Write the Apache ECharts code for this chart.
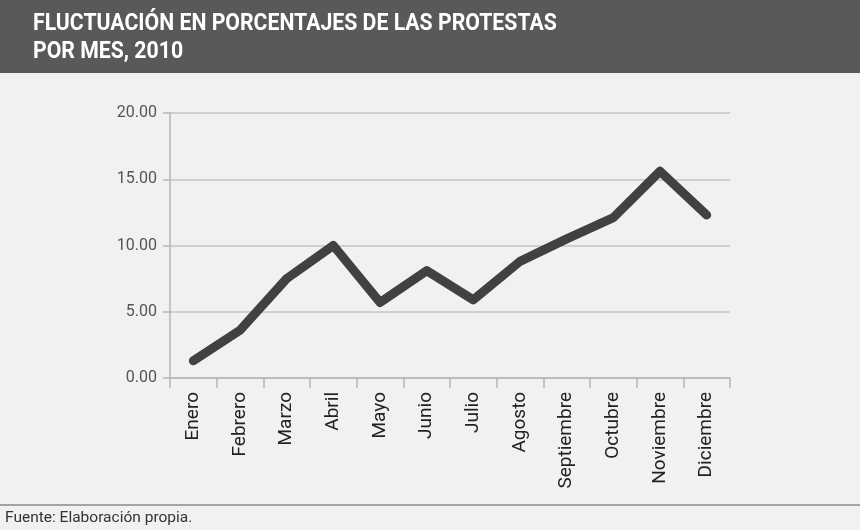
<!DOCTYPE html>
<html>
<head>
<meta charset="utf-8">
<script src="https://cdn.jsdelivr.net/npm/echarts@6/dist/echarts.min.js"></script>
<style>
html,body{margin:0;padding:0;background:#f1f1f1;}
#chart{width:860px;height:530px;}
</style>
</head>
<body>
<div id="chart"></div>
<script>
var titleLines = ['FLUCTUACIÓN EN PORCENTAJES DE LAS PROTESTAS', 'POR MES, 2010'];
var sourceText = 'Fuente: Elaboración propia.';
var months = ['Enero','Febrero','Marzo','Abril','Mayo','Junio','Julio','Agosto','Septiembre','Octubre','Noviembre','Diciembre'];
var values = [1.3, 3.6, 7.5, 10.0, 5.7, 8.1, 5.9, 8.8, 10.5, 12.1, 15.6, 12.3];
var yTicks = [0, 5, 10, 15, 20];

var chart = echarts.init(document.getElementById('chart'), null, {renderer:'canvas'});
chart.setOption({
  backgroundColor: '#f1f1f1',
  animation: false,
  graphic: [
    {type:'rect', z:-1, shape:{x:0,y:0,width:860,height:73}, style:{fill:'#58595b'}},
    {type:'text', x:33, y:10, scaleX:0.885, originX:0, originY:0,
      style:{text:titleLines.join('\n'), fill:'#ffffff', font:'bold 24px Roboto, sans-serif', lineHeight:28, verticalAlign:'top'}},
    {type:'line', shape:{x1:0,y1:505,x2:860,y2:505}, style:{stroke:'#8a8a8a', lineWidth:1.5}},
    {type:'text', x:5, y:510, style:{text:sourceText, fill:'#333333', font:'15.5px Roboto, sans-serif', verticalAlign:'top'}}
  ],
  grid: {left:170, right:130, top:113, bottom:152},
  xAxis: {
    type:'category', data: months, boundaryGap:true,
    axisLine:{lineStyle:{color:'#b5b5b5', width:1.5}},
    axisTick:{show:true, length:10, alignWithLabel:false, lineStyle:{color:'#b5b5b5', width:1.5}},
    axisLabel:{rotate:90, color:'#222', fontFamily:'Roboto, sans-serif', fontSize:19, margin:14, interval:0}
  },
  yAxis: {
    type:'value', min:yTicks[0], max:yTicks[yTicks.length-1], interval:5,
    axisLine:{show:true, lineStyle:{color:'#b5b5b5', width:1.5}},
    axisTick:{show:true, length:7, lineStyle:{color:'#b5b5b5', width:1.5}},
    splitLine:{lineStyle:{color:'#c5c5c5', width:1.5}},
    axisLabel:{color:'#555', fontFamily:'Roboto, sans-serif', fontSize:16, margin:13, formatter:function(v){return v.toFixed(2);}}
  },
  series: [{
    type:'line', data: values, symbol:'none',
    lineStyle:{color:'#414143', width:9, cap:'round', join:'round'}
  }]
});
</script>
</body>
</html>
